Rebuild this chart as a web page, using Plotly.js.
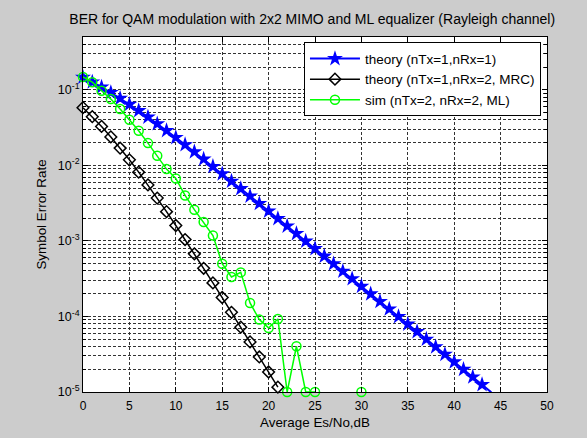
<!DOCTYPE html>
<html>
<head>
<meta charset="utf-8">
<script src="https://cdn.plot.ly/plotly-3.0.1.min.js"></script>
<style>html,body{margin:0;padding:0;background:#cccccc;}</style>
</head>
<body>
<div id="chart" style="width:587px;height:438px;"></div>
<script>
// ---- data ----
var snrTheory1 = [0,1,2,3,4,5,6,7,8,9,10,11,12,13,14,15,16,17,18,19,20,21,22,23,24,25,26,27,28,29,30,31,32,33,34,35,36,37,38,39,40,41,42,43,44];
var serTheory1 = [0.1464,0.1267,0.1085,0.0919,0.0771,0.0642,0.0530,0.0435,0.0355,0.0288,0.0233,0.01875,0.01507,0.01208,0.00966,0.00772,0.00616,0.00491,0.00392,0.00312,0.00248,0.00197,0.00157,0.00125,0.000992,0.000789,0.000627,0.000498,0.000396,0.000315,0.00025,0.0001986,0.0001577,0.0001253,0.0000995,0.0000791,0.0000628,0.0000499,0.0000396,0.0000315,0.000025,0.0000199,0.0000158,0.0000125,0.0000099];
var snrMRC = [0,1,2,3,4,5,6,7,8,9,10,11,12,13,14,15,16,17,18,19,20,21];
var serMRC = [0.0580,0.04409,0.03276,0.02379,0.01692,0.01184,0.00813,0.00551,0.00369,0.00244,0.00160,0.001042,0.000674,0.000434,0.000278,0.000178,0.0001134,0.0000721,0.0000460,0.0000291,0.0000184,0.0000116];
var snrSim = [0,1,2,3,4,5,6,7,8,9,10,11,12,13,14,15,16,17,18,19,20,21,22,23,24,25,26,27,28,29,30];
var serSim = [0.148,0.126,0.0970,0.0753,0.0556,0.0401,0.0287,0.0197,0.0134,0.00893,0.00671,0.0040,0.00259,0.00178,0.00118,0.000499,0.000333,0.000383,0.000151,0.0000908,0.0000705,0.0000927,0.00001,0.0000403,0.00001,0.00001,null,null,null,null,0.00001];
var xTickVals = [0,5,10,15,20,25,30,35,40,45,50];
var yTickVals = [1e-5,1e-4,1e-3,1e-2,1e-1];
var yTickText = ['10<sup>-5</sup>','10<sup>-4</sup>','10<sup>-3</sup>','10<sup>-2</sup>','10<sup>-1</sup>'];
var legendNames = ['theory (nTx=1,nRx=1)','theory (nTx=1,nRx=2, MRC)','sim (nTx=2, nRx=2, ML)'];
var chartTitle = 'BER for QAM modulation with 2x2 MIMO and ML equalizer (Rayleigh channel)';
var xTitle = 'Average Es/No,dB';
var yTitle = 'Symbol Error Rate';

// minor log tick positions (2..9 x each decade, up to 0.5)
var minorVals = [];
for (var e = -5; e <= -1; e++) {
  for (var m = 2; m <= 9; m++) {
    var v = m * Math.pow(10, e);
    if (v <= 0.5 + 1e-12) minorVals.push(v);
  }
}

var FONT = 'Liberation Sans, Arial, sans-serif';
var gridDash = '3px,2px';
var gridCol = '#333333';

var traces = [
  {x: snrTheory1, y: serTheory1, name: legendNames[0], type: 'scatter', mode: 'lines+markers',
   line: {color: '#0000ff', width: 2}, marker: {symbol: 'star', size: 12, color: '#0000ff', line: {width: 0}}, cliponaxis: false},
  {x: snrMRC, y: serMRC, name: legendNames[1], type: 'scatter', mode: 'lines+markers',
   line: {color: '#000000', width: 1.5}, marker: {symbol: 'diamond-open', size: 9, color: '#000000', line: {width: 1.5}}, cliponaxis: false},
  {x: snrSim, y: serSim, name: legendNames[2], type: 'scatter', mode: 'lines+markers', connectgaps: false,
   line: {color: '#00ff00', width: 1.5}, marker: {symbol: 'circle-open', size: 9, color: '#00ff00', line: {width: 1.5}}, cliponaxis: false}
];

var layout = {
  width: 587, height: 438,
  margin: {l: 83, r: 40, t: 37, b: 46, pad: 0},
  paper_bgcolor: '#cccccc',
  plot_bgcolor: '#ffffff',
  font: {family: FONT, size: 12, color: '#000000'},
  showlegend: true,
  title: {text: chartTitle, font: {family: FONT, size: 14, color: '#000'}, x: 0.494, xref: 'paper', xanchor: 'center', y: 1 - 19/438, yref: 'container', yanchor: 'middle'},
  xaxis: {
    range: [0, 50], tickmode: 'array', tickvals: xTickVals, ticks: 'inside', ticklen: 5, tickcolor: '#000',
    showline: true, linecolor: '#000', linewidth: 1, mirror: 'ticks', zeroline: false,
    showgrid: true, gridcolor: gridCol, griddash: gridDash, gridwidth: 1,
    tickfont: {family: FONT, size: 12, color: '#000'}, ticklabelstandoff: 3,
    title: {text: xTitle, font: {family: FONT, size: 13.4, color: '#000'}, standoff: 5},
    automargin: false
  },
  yaxis: {
    type: 'log', range: [-5, Math.log10(0.5)], tickmode: 'array', tickvals: yTickVals, ticktext: yTickText,
    ticks: 'inside', ticklen: 5, tickcolor: '#000',
    showline: true, linecolor: '#000', linewidth: 1, mirror: 'ticks', zeroline: false,
    showgrid: true, gridcolor: gridCol, griddash: gridDash, gridwidth: 1,
    tickfont: {family: FONT, size: 12.5, color: '#000'},
    title: {text: yTitle, font: {family: FONT, size: 13.4, color: '#000'}, standoff: 8},
    automargin: false,
    minor: {tickmode: 'array', tickvals: minorVals, ticks: 'inside', ticklen: 3, tickcolor: '#000',
            showgrid: true, gridcolor: gridCol, griddash: gridDash, gridwidth: 1}
  },
  legend: {
    x: 0.987, y: 0.985, xanchor: 'right', yanchor: 'top',
    bgcolor: '#ffffff', bordercolor: '#000000', borderwidth: 1,
    font: {family: FONT, size: 13.5, color: '#000'},
    itemwidth: 50, tracegroupgap: 0
  }
};

Plotly.newPlot('chart', traces, layout, {displayModeBar: false, staticPlot: true});
</script>
</body>
</html>
